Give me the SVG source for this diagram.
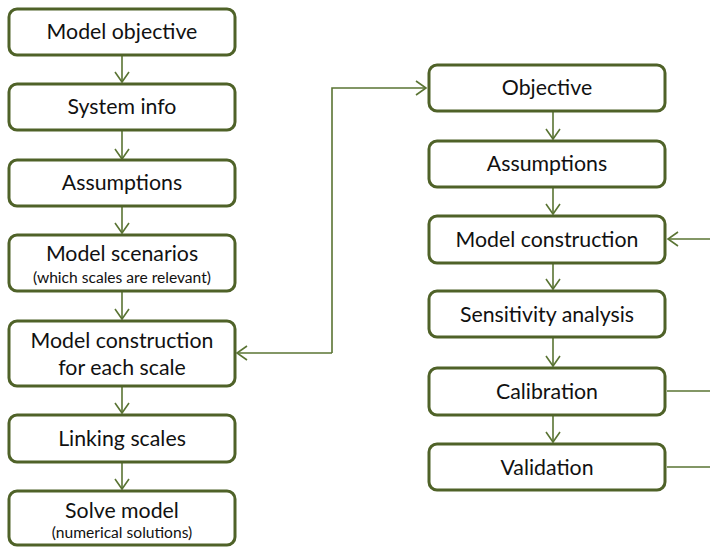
<svg xmlns="http://www.w3.org/2000/svg" width="710" height="547" viewBox="0 0 710 547">
  <defs>
    <style>
      .box { fill: #ffffff; stroke: #4f6228; stroke-width: 3; }
      .t { font-family: Lato, "Liberation Sans", sans-serif; font-size: 21.3px; fill: #111111; text-anchor: middle; }
      .s { font-family: Lato, "Liberation Sans", sans-serif; font-size: 15.6px; fill: #111111; text-anchor: middle; }
      .c { fill: none; stroke: #5a7433; stroke-width: 1.6; }
    </style>
    <marker id="arr" markerUnits="userSpaceOnUse" markerWidth="18" markerHeight="18" refX="11" refY="8" orient="auto" viewBox="0 0 18 16">
      <path d="M1,1 L11,8 L1,15" fill="none" stroke="#5a7433" stroke-width="1.6"/>
    </marker>
  </defs>

  <rect width="710" height="547" fill="#ffffff"/>

  <!-- connectors -->
  <g id="connectors">
    <line class="c" x1="122" y1="56" x2="122" y2="82" marker-end="url(#arr)"/>
    <line class="c" x1="122" y1="131" x2="122" y2="159" marker-end="url(#arr)"/>
    <line class="c" x1="122" y1="207" x2="122" y2="233" marker-end="url(#arr)"/>
    <line class="c" x1="122" y1="292" x2="122" y2="319" marker-end="url(#arr)"/>
    <line class="c" x1="122" y1="387" x2="122" y2="413" marker-end="url(#arr)"/>
    <line class="c" x1="122" y1="463" x2="122" y2="489" marker-end="url(#arr)"/>
    <polyline class="c" points="332,353 332,88 426,88" marker-end="url(#arr)"/>
    <polyline class="c" points="332,353 237,353" marker-end="url(#arr)"/>
    <line class="c" x1="553" y1="112" x2="553" y2="139" marker-end="url(#arr)"/>
    <line class="c" x1="553" y1="188" x2="553" y2="214" marker-end="url(#arr)"/>
    <line class="c" x1="553" y1="264" x2="553" y2="289" marker-end="url(#arr)"/>
    <line class="c" x1="553" y1="338" x2="553" y2="366" marker-end="url(#arr)"/>
    <line class="c" x1="553" y1="416" x2="553" y2="442" marker-end="url(#arr)"/>
    <polyline class="c" points="667,467 712,467 712,239"/>
    <line class="c" x1="667" y1="391" x2="712" y2="391"/>
    <line class="c" x1="712" y1="239" x2="668" y2="239" marker-end="url(#arr)"/>
  </g>

  <!-- left column -->
  <g id="model-objective">
    <rect class="box" x="9" y="9" width="226" height="46" rx="8"/>
    <text class="t" x="122" y="39">Model objective</text>
  </g>
  <g id="system-info">
    <rect class="box" x="9" y="84" width="226" height="46" rx="8"/>
    <text class="t" x="122" y="114">System info</text>
  </g>
  <g id="assumptions-left">
    <rect class="box" x="9" y="160" width="226" height="46" rx="8"/>
    <text class="t" x="122" y="190">Assumptions</text>
  </g>
  <g id="model-scenarios">
    <rect class="box" x="9" y="235" width="226" height="56" rx="8"/>
    <text class="t" x="122" y="261">Model scenarios</text>
    <text class="s" x="122" y="283">(which scales are relevant)</text>
  </g>
  <g id="model-construction-scale">
    <rect class="box" x="9" y="321" width="226" height="65" rx="8"/>
    <text class="t" x="122" y="348">Model construction</text>
    <text class="t" x="122" y="375">for each scale</text>
  </g>
  <g id="linking-scales">
    <rect class="box" x="9" y="415" width="226" height="47" rx="8"/>
    <text class="t" x="122" y="446">Linking scales</text>
  </g>
  <g id="solve-model">
    <rect class="box" x="9" y="491" width="226" height="54" rx="8"/>
    <text class="t" x="122" y="518">Solve model</text>
    <text class="s" x="122" y="538">(numerical solutions)</text>
  </g>

  <!-- right column -->
  <g id="objective">
    <rect class="box" x="429" y="65" width="236" height="46" rx="8"/>
    <text class="t" x="547" y="95">Objective</text>
  </g>
  <g id="assumptions-right">
    <rect class="box" x="429" y="141" width="236" height="46" rx="8"/>
    <text class="t" x="547" y="171">Assumptions</text>
  </g>
  <g id="model-construction">
    <rect class="box" x="429" y="216" width="236" height="47" rx="8"/>
    <text class="t" x="547" y="247">Model construction</text>
  </g>
  <g id="sensitivity-analysis">
    <rect class="box" x="429" y="291" width="236" height="46" rx="8"/>
    <text class="t" x="547" y="322">Sensitivity analysis</text>
  </g>
  <g id="calibration">
    <rect class="box" x="429" y="368" width="236" height="47" rx="8"/>
    <text class="t" x="547" y="399">Calibration</text>
  </g>
  <g id="validation">
    <rect class="box" x="429" y="444" width="236" height="46" rx="8"/>
    <text class="t" x="547" y="475">Validation</text>
  </g>
</svg>
